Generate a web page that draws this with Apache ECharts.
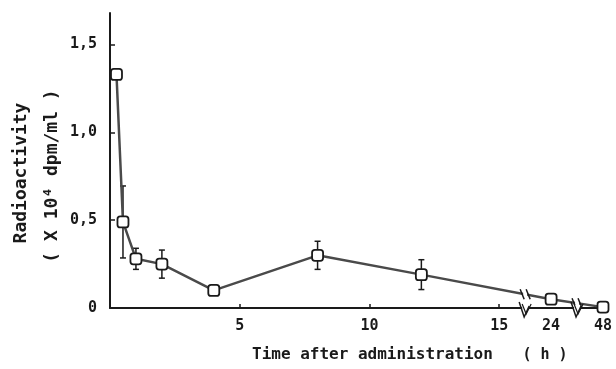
<!DOCTYPE html>
<html><head><meta charset="utf-8">
<script src="https://cdn.jsdelivr.net/npm/echarts@6/dist/echarts.min.js"></script>
<style>html,body{margin:0;padding:0;background:#fff}#c{width:616px;height:369px}</style>
</head><body><div id="c"></div>
<script>
// ---- data ----
var timesH = [0.25, 0.5, 1, 2, 4, 8, 12, 24, 48];
var meanVals = [1.33, 0.49, 0.28, 0.25, 0.10, 0.30, 0.19, 0.05, 0.005];
var errVals = [0.015, 0.205, 0.06, 0.08, 0.02, 0.08, 0.085, 0.02, 0.01];
var xTickHours = [5, 10, 15, 24, 48];
var yTickVals = [0, 0.5, 1.0, 1.5];
var yTickText = ['0', '0,5', '1,0', '1,5'];
// broken time axis: hours -> axis position (piecewise linear)
var breakHours = [0, 15, 24, 48];
var breakAxis = [0, 15, 17, 19];
var breakMarks = [16, 18];

function toAxis(h) {
  for (var i = 1; i < breakHours.length; i++) {
    if (h <= breakHours[i]) {
      var f = (h - breakHours[i-1]) / (breakHours[i] - breakHours[i-1]);
      return breakAxis[i-1] + f * (breakAxis[i] - breakAxis[i-1]);
    }
  }
  return breakAxis[breakAxis.length-1];
}
var xTickAxis = xTickHours.map(toAxis);
var labelMap = {};
xTickAxis.forEach(function (a, i) { labelMap[a.toFixed(3)] = String(xTickHours[i]); });
var yLabelMap = {};
yTickVals.forEach(function (v, i) { yLabelMap[v.toFixed(3)] = yTickText[i]; });

var pts = timesH.map(function (h, i) { return [toAxis(h), meanVals[i]]; });
var errData = timesH.map(function (h, i) { return [toAxis(h), meanVals[i] - errVals[i], meanVals[i] + errVals[i]]; });

var FONT = 'DejaVu Sans Mono';
var INK = '#1a1a1a';
var chart = echarts.init(document.getElementById('c'), null, {renderer: 'canvas'});
chart.setOption({
  backgroundColor: '#fff',
  animation: false,
  grid: {left: 110, right: 13, top: 13, bottom: 61},
  xAxis: {
    type: 'value', min: 0, max: 19, interval: 1,
    splitLine: {show: false},
    axisLine: {lineStyle: {color: INK, width: 2}},
    axisTick: {inside: true, length: 4, customValues: [5, 10, 15], lineStyle: {color: INK, width: 1.5}},
    axisLabel: {customValues: xTickAxis, margin: 11, fontFamily: FONT, fontWeight: 'bold', fontSize: 15, color: INK,
      formatter: function (v) { return labelMap[v.toFixed(3)] || ''; }}
  },
  yAxis: {
    type: 'value', min: 0, max: 1.68, interval: 0.5,
    splitLine: {show: false},
    axisLine: {lineStyle: {color: INK, width: 2}},
    axisTick: {inside: true, length: 5, customValues: [0.5, 1.0, 1.5], lineStyle: {color: INK, width: 1.5}},
    axisLabel: {customValues: yTickVals, margin: 13, fontFamily: FONT, fontWeight: 'bold', fontSize: 15, color: INK,
      formatter: function (v) { return yLabelMap[v.toFixed(3)] || ''; }}
  },
  graphic: [
    {type: 'text', x: 21, y: 173, rotation: Math.PI / 2,
      style: {text: 'Radioactivity', fontFamily: FONT, fontWeight: 'bold', fontSize: 18, fill: INK, align: 'center', verticalAlign: 'middle'}},
    {type: 'text', x: 52, y: 176, rotation: Math.PI / 2,
      style: {text: '( X 10\u2074 dpm/ml )', fontFamily: FONT, fontWeight: 'bold', fontSize: 18, fill: INK, align: 'center', verticalAlign: 'middle'}},
    {type: 'text', x: 252, y: 355,
      style: {text: 'Time after administration', fontFamily: FONT, fontWeight: 'bold', fontSize: 16, fill: INK, align: 'left', verticalAlign: 'middle'}},
    {type: 'text', x: 545, y: 355,
      style: {text: '( h )', fontFamily: FONT, fontWeight: 'bold', fontSize: 15, fill: INK, align: 'center', verticalAlign: 'middle'}}
  ],
  series: [
    {
      type: 'custom', z: 3,
      data: errData,
      renderItem: function (params, api) {
        var x = api.value(0);
        var lo = api.coord([x, api.value(1)]);
        var hi = api.coord([x, api.value(2)]);
        var c = 3;
        var st = {stroke: INK, lineWidth: 1.5};
        return {type: 'group', children: [
          {type: 'line', shape: {x1: lo[0], y1: lo[1], x2: hi[0], y2: hi[1]}, style: st},
          {type: 'line', shape: {x1: lo[0]-c, y1: lo[1], x2: lo[0]+c, y2: lo[1]}, style: st},
          {type: 'line', shape: {x1: hi[0]-c, y1: hi[1], x2: hi[0]+c, y2: hi[1]}, style: st}
        ]};
      }
    },
    {
      type: 'line', z: 4,
      data: pts,
      symbol: 'roundRect', symbolSize: 11,
      lineStyle: {color: '#4a4a4a', width: 2.5},
      itemStyle: {color: '#fff', borderColor: INK, borderWidth: 1.8}
    },
    {
      type: 'custom', z: 5,
      data: breakMarks.map(function (b) { return [b]; }),
      renderItem: function (params, api) {
        var xb = api.value(0);
        var yv = 0;
        for (var i = 1; i < pts.length; i++) {
          if (pts[i][0] >= xb && pts[i-1][0] <= xb) {
            var f = (xb - pts[i-1][0]) / (pts[i][0] - pts[i-1][0]);
            var p0 = api.coord(pts[i-1]), p1 = api.coord(pts[i]);
            yv = [p0[0] + f * (p1[0] - p0[0]), p0[1] + f * (p1[1] - p0[1])];
            break;
          }
        }
        var ax = api.coord([xb, 0]);
        function zig(p) {
          var s = {stroke: INK, lineWidth: 1.5, fill: null};
          return [
            {type: 'rect', shape: {x: p[0]-2, y: p[1]-4, width: 4, height: 8}, style: {fill: '#fff'}},
            {type: 'polyline', shape: {points: [[p[0]-5, p[1]-5], [p[0]-1, p[1]+5]]}, style: s},
            {type: 'polyline', shape: {points: [[p[0]+1, p[1]-5], [p[0]+5, p[1]+5]]}, style: s}
          ];
        }
        var axisMark = [
          {type: 'rect', shape: {x: ax[0]-3, y: ax[1]-3, width: 6, height: 6}, style: {fill: '#fff'}},
          {type: 'polyline', shape: {points: [[ax[0]-6, ax[1]-6], [ax[0]-1, ax[1]+9], [ax[0]+4, ax[1]-2]]}, style: {stroke: INK, lineWidth: 1.5, fill: null}},
          {type: 'polyline', shape: {points: [[ax[0]-3, ax[1]-4], [ax[0]+1, ax[1]+6], [ax[0]+6, ax[1]-4]]}, style: {stroke: INK, lineWidth: 1.2, fill: null}}
        ];
        return {type: 'group', children: zig(yv).concat(axisMark)};
      }
    }
  ]
});
</script>
</body></html>
